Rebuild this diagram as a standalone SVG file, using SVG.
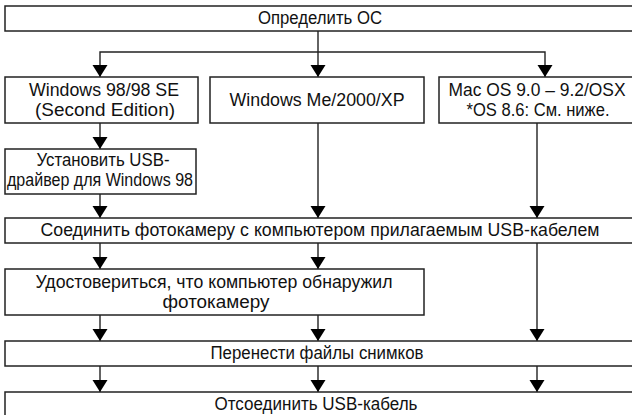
<svg xmlns="http://www.w3.org/2000/svg" width="632" height="415" viewBox="0 0 632 415">
<style>
.box{fill:#fff;stroke:#222;stroke-width:1.5}
.t{font-family:"Liberation Sans",Arial,sans-serif;font-size:17.5px;fill:#111;text-anchor:middle}
.c{fill:none;stroke:#222;stroke-width:1.4;marker-end:url(#ah)}
</style>
<defs>
<marker id="ah" viewBox="0 -8 12 16" refX="12" refY="0" markerWidth="12" markerHeight="16" markerUnits="userSpaceOnUse" orient="auto">
<path d="M0,-7.5 L12,0 L0,7.5 z" fill="#000"/>
</marker>
</defs>
<rect width="632" height="415" fill="#fff"/>
<g id="connectors">
<path class="c" d="M318,31 V77"/>
<path class="c" d="M318,52 H100 V77"/>
<path class="c" d="M318,52 H545 V77"/>
<path class="c" d="M100,123 V149"/>
<path class="c" d="M100,194 V218"/>
<path class="c" d="M318,123 V218"/>
<path class="c" d="M537,123 V218"/>
<path class="c" d="M100,243 V269"/>
<path class="c" d="M318,243 V269"/>
<path class="c" d="M537,243 V341"/>
<path class="c" d="M100,315 V341"/>
<path class="c" d="M318,315 V341"/>
<path class="c" d="M100,366 V392"/>
<path class="c" d="M318,366 V392"/>
<path class="c" d="M537,366 V392"/>
</g>
<g id="n-detect">
<rect class="box" x="5" y="6" width="630" height="25"/>
<text class="t" x="320" y="24" textLength="124" lengthAdjust="spacingAndGlyphs">Определить ОС</text>
</g>
<g id="n-win98">
<rect class="box" x="5" y="77" width="193" height="46"/>
<text class="t" x="104" y="96" textLength="150" lengthAdjust="spacingAndGlyphs">Windows 98/98 SE</text>
<text class="t" x="105" y="116" textLength="140" lengthAdjust="spacingAndGlyphs">(Second Edition)</text>
</g>
<g id="n-winme">
<rect class="box" x="210" y="77" width="214" height="46"/>
<text class="t" x="317" y="106" textLength="175" lengthAdjust="spacingAndGlyphs">Windows Me/2000/XP</text>
</g>
<g id="n-mac">
<rect class="box" x="439" y="77" width="196" height="46"/>
<text class="t" x="537" y="96" textLength="177" lengthAdjust="spacingAndGlyphs">Mac OS 9.0 – 9.2/OSX</text>
<text class="t" x="538" y="116" textLength="143" lengthAdjust="spacingAndGlyphs">*OS 8.6: См. ниже.</text>
</g>
<g id="n-driver">
<rect class="box" x="5" y="149" width="191" height="45"/>
<text class="t" x="103" y="166" textLength="133" lengthAdjust="spacingAndGlyphs">Установить USB-</text>
<text class="t" x="100" y="186" textLength="186" lengthAdjust="spacingAndGlyphs">драйвер для Windows 98</text>
</g>
<g id="n-connect">
<rect class="box" x="5" y="218" width="630" height="25"/>
<text class="t" x="320" y="236" textLength="559" lengthAdjust="spacingAndGlyphs">Соединить фотокамеру с компьютером прилагаемым USB-кабелем</text>
</g>
<g id="n-verify">
<rect class="box" x="5" y="269" width="419" height="46"/>
<text class="t" x="214" y="288" textLength="357" lengthAdjust="spacingAndGlyphs">Удостовериться, что компьютер обнаружил</text>
<text class="t" x="216" y="308" textLength="107" lengthAdjust="spacingAndGlyphs">фотокамеру</text>
</g>
<g id="n-transfer">
<rect class="box" x="5" y="341" width="630" height="25"/>
<text class="t" x="317" y="359" textLength="213" lengthAdjust="spacingAndGlyphs">Перенести файлы снимков</text>
</g>
<g id="n-disconnect">
<rect class="box" x="5" y="392" width="630" height="30"/>
<text class="t" x="316" y="410" textLength="203" lengthAdjust="spacingAndGlyphs">Отсоединить USB-кабель</text>
</g>
</svg>
